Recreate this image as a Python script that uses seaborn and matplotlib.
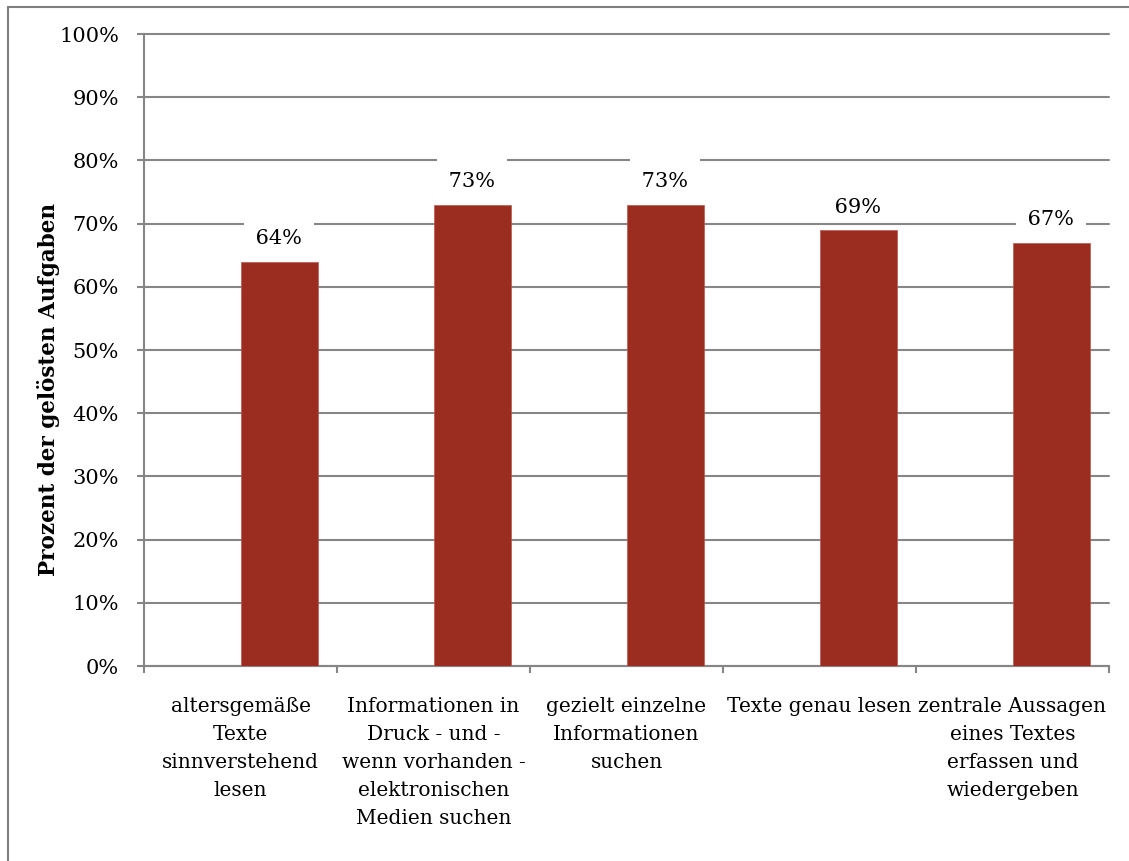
import numpy as np
import pandas as pd
import matplotlib
matplotlib.use("Agg")
import matplotlib.pyplot as plt
from matplotlib.lines import Line2D
from matplotlib.ticker import PercentFormatter, FixedLocator
import seaborn as sns

categories = [
    "altersgemäße\nTexte\nsinnverstehend\nlesen",
    "Informationen in\nDruck - und -\nwenn vorhanden -\nelektronischen\nMedien suchen",
    "gezielt einzelne\nInformationen\nsuchen",
    "Texte genau lesen",
    "zentrale Aussagen\neines Textes\nerfassen und\nwiedergeben",
]
solved_share = [0.64, 0.73, 0.73, 0.69, 0.67]
series_names = ["Reihe 1", "Reihe 2"]
y_ticks = [0.0, 0.1, 0.2, 0.3, 0.4, 0.5, 0.6, 0.7, 0.8, 0.9, 1.0]
y_label = "Prozent der gelösten Aufgaben"

sns.set_theme(style="white")
plt.rcParams["font.family"] = ["DejaVu Serif"]

BAR = "#9A2C20"
GRID = "#868686"

df = pd.DataFrame({
    "Kompetenz": categories,
    "Serie": series_names[1],
    "Anteil": solved_share,
})

fig = plt.figure(figsize=(11.29, 8.61), dpi=100)
ax = fig.add_axes([144 / 1129, 1 - 666 / 861, (1109 - 144) / 1129, (666 - 34) / 861])
ax.set_axisbelow(True)

sns.barplot(
    data=df, x="Kompetenz", y="Anteil", hue="Serie",
    order=categories, hue_order=series_names,
    palette={series_names[0]: BAR, series_names[1]: BAR},
    saturation=1, width=0.8, gap=0, dodge=True, errorbar=None, legend=False,
    edgecolor="#B85A4E", linewidth=0.5, ax=ax, zorder=3,
)

ax.set_xlim(-0.5, len(categories) - 0.5)
ax.set_ylim(0, 1)
ax.yaxis.set_major_locator(FixedLocator(y_ticks))
ax.yaxis.set_major_formatter(PercentFormatter(1.0, decimals=0))
ax.grid(axis="y", color=GRID, linewidth=1.5)
ax.grid(axis="x", visible=False)
for gl in ax.get_ygridlines():
    gl.set_clip_on(False)

for side in ["top", "right"]:
    ax.spines[side].set_visible(False)
for side in ["left", "bottom"]:
    ax.spines[side].set_color(GRID)
    ax.spines[side].set_linewidth(1.5)

ax.tick_params(axis="y", which="major", left=True, length=5, width=1.5,
               color=GRID, direction="out", pad=13, labelsize=15,
               labelcolor="black")
ax.set_xticks(range(len(categories)))
ax.set_xticklabels(categories, fontsize=14.5, linespacing=1.6)
ax.set_xticks(np.arange(-0.5, len(categories)), minor=True)
ax.tick_params(axis="x", which="major", bottom=False, length=0, pad=22,
               labelcolor="black")
ax.tick_params(axis="x", which="minor", bottom=True, length=5, width=1.5,
               color=GRID, direction="out")

ax.set_xlabel("")
ax.set_ylabel(y_label, fontsize=15.5, fontweight="bold", color="black")
ax.yaxis.set_label_coords(-0.0871, 0.437)

# value labels on a white box; the empty first line lifts the box top
# so it cuts the grid line just above the label
value_texts = [f"\n {v * 100:.0f}% " for v in solved_share]
ax.bar_label(
    ax.containers[-1], labels=value_texts, padding=9.5, fontsize=15,
    color="black", linespacing=0.8, zorder=6,
    bbox=dict(boxstyle="square,pad=0.25", facecolor="white", edgecolor="none"),
)

# frame around the chart area
fig.add_artist(Line2D([8 / 1129, 8 / 1129], [0, 1 - 7 / 861], color="#7F7F7F", linewidth=1.5))
fig.add_artist(Line2D([8 / 1129, 1], [1 - 7 / 861, 1 - 7 / 861], color="#7F7F7F", linewidth=1.5))

fig.savefig("out.png", dpi=100, facecolor="white")
